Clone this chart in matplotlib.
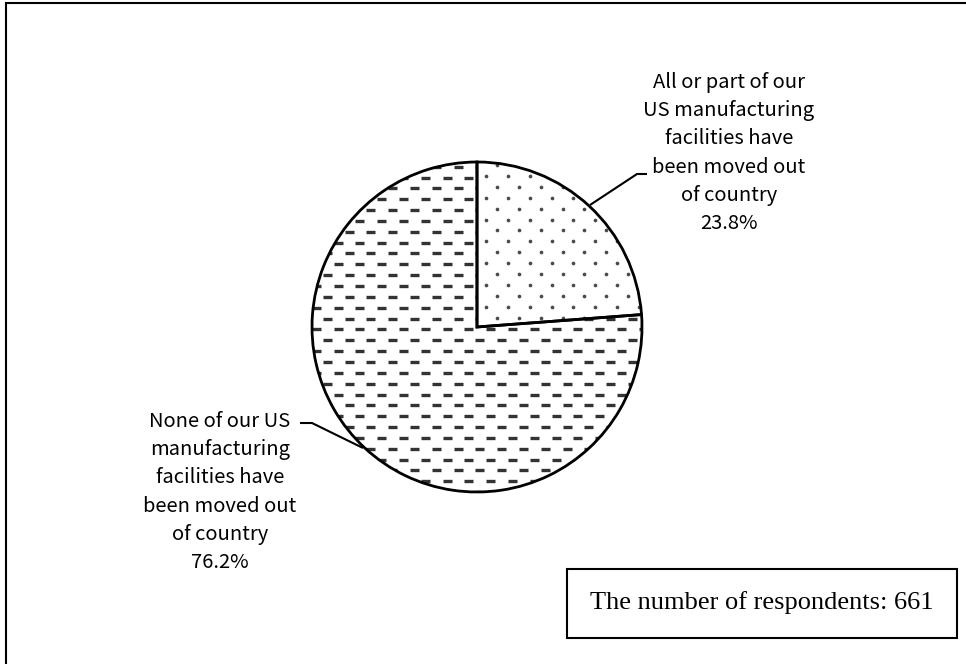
import numpy as np
import matplotlib
matplotlib.use("Agg")
import matplotlib.pyplot as plt
from matplotlib.collections import LineCollection
from matplotlib.patches import Rectangle

# ---- data ----
categories = [
    "All or part of our\nUS manufacturing\nfacilities have\nbeen moved out\nof country",
    "None of our US\nmanufacturing\nfacilities have\nbeen moved out\nof country",
]
shares = [23.8, 76.2]
respondents = 661
note_text = f"The number of respondents: {respondents}"

W, H = 966, 664
fig = plt.figure(figsize=(W / 100, H / 100), dpi=100)
ax = fig.add_axes([0, 0, 1, 1])

def Y(y):  # image y -> data y
    return H - y

cx, cy, R = 477, Y(327), 165

wedges, _ = ax.pie(shares, startangle=90, counterclock=False,
                   center=(cx, cy), radius=R, frame=True,
                   wedgeprops=dict(facecolor="none", edgecolor="black",
                                   linewidth=2.0, zorder=5))
ax.set_xlim(0, W)
ax.set_ylim(0, H)
ax.set_aspect("equal")
ax.axis("off")

# dotted pattern for first wedge
xs, ys = [], []
row = 0
for yy in np.arange(cy - R - 11, cy + R + 11, 10.9):
    off = 0 if row % 2 == 0 else 11
    for xx in np.arange(cx - R - 22 + off, cx + R + 22, 21.8):
        xs.append(xx); ys.append(yy)
    row += 1
sc = ax.scatter(xs, ys, s=7, color="#4a4a4a", linewidths=0, zorder=2)
sc.set_clip_path(wedges[0])

# dashed pattern for second wedge
segs = []
row = 0
for yy in np.arange(cy - R - 11, cy + R + 11, 10.85):
    off = 0 if row % 2 == 0 else 11
    for xx in np.arange(cx - R - 22 + off, cx + R + 22, 21.8):
        segs.append([(xx, yy), (xx + 9, yy)])
    row += 1
lc = LineCollection(segs, colors="#333333", linewidths=2.4, capstyle="butt", zorder=2)
ax.add_collection(lc)
lc.set_clip_path(wedges[1])

label_font = ["Noto Sans CJK JP", "DejaVu Sans"]
fs = 14.5
ls = 1.44

# upper-right label
ax.text(729, Y(153), f"{categories[0]}\n{shares[0]:.1f}%", ha="center", va="center",
        fontsize=fs, family=label_font, linespacing=ls, zorder=6)
ax.plot([590, 637, 647], [Y(205), Y(174), Y(174)], color="black", lw=1.5,
        solid_capstyle="butt", zorder=6)

# lower-left label
ax.text(220, Y(492), f"{categories[1]}\n{shares[1]:.1f}%", ha="center", va="center",
        fontsize=fs, family=label_font, linespacing=ls, zorder=6)
ax.plot([300, 312, 363], [Y(423), Y(423), Y(448)], color="black", lw=1.5,
        solid_capstyle="butt", zorder=6)

# note box
ax.add_patch(Rectangle((567, Y(638)), 957 - 567, 638 - 569, facecolor="white",
                       edgecolor="black", lw=1.5, zorder=6))
ax.text((567 + 957) / 2, Y(603), note_text, ha="center", va="center",
        fontsize=19, family="Liberation Serif", zorder=7)

# outer frame
ax.add_patch(Rectangle((6, Y(700)), 1000, 700 - 3, facecolor="none",
                       edgecolor="black", lw=1.5, zorder=1, clip_on=False))

fig.savefig("out.png", dpi=100)
